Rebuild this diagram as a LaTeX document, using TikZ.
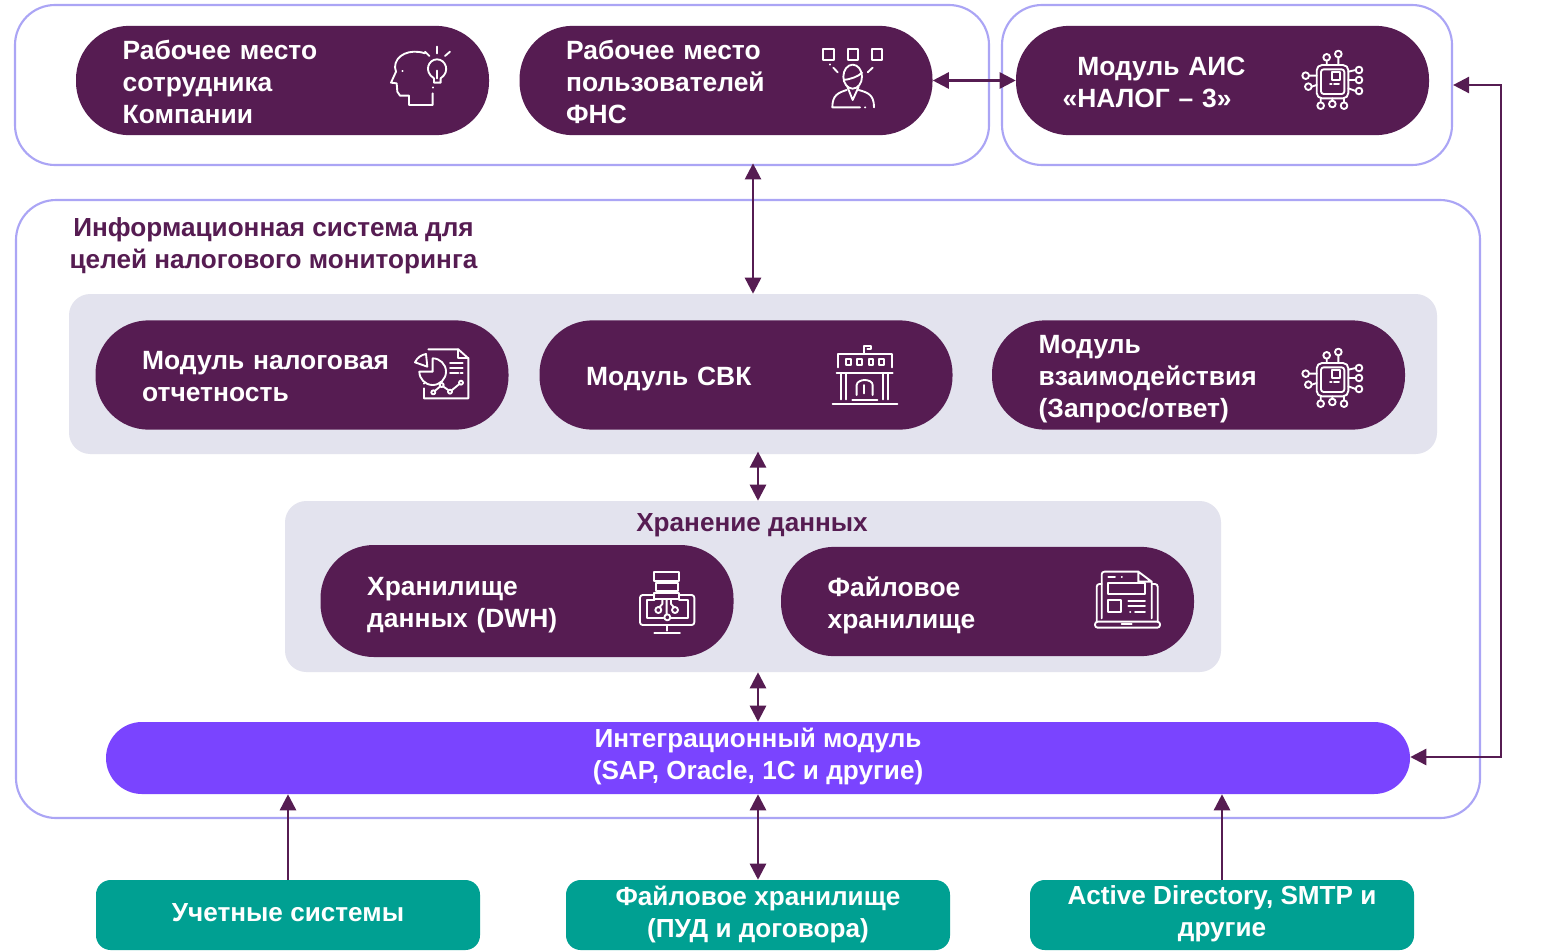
\documentclass[tikz,border=0pt]{standalone}
\usepackage{fontspec}
\setmainfont{Liberation Sans}
\usetikzlibrary{arrows.meta}
\definecolor{plum}{HTML}{561C52}
\definecolor{edgeviolet}{HTML}{ABA5F5}
\definecolor{panelgray}{HTML}{E3E3EE}
\definecolor{violetbar}{HTML}{7A44FF}
\definecolor{teal}{HTML}{00A092}
\newcommand{\headstrut}{\rule{0pt}{20.7pt}}
\newcommand{\tailstrut}[1]{\rule[-#1]{0pt}{1pt}}
\tikzset{
  x=0.75pt,y=-0.75pt,
  frame/.style={draw=edgeviolet,line width=1.6pt,fill=white,rounded corners=30pt,inner sep=0pt},
  panel/.style={fill=panelgray,rounded corners=16pt,inner sep=0pt},
  pill/.style={fill=plum,text=white,rounded corners=40pt,minimum width=309.75pt,minimum height=82pt,
    inner xsep=35pt,inner ysep=0pt,text width=239.75pt,align=left,
    font=\fontsize{19.8}{24}\selectfont\bfseries,
    execute at begin node=\headstrut,execute at end node=\tailstrut{4.5pt}},
  bar/.style={fill=violetbar,text=white,rounded corners=27pt,align=center,inner sep=0pt,
    font=\fontsize{19.6}{24}\selectfont\bfseries,
    execute at begin node=\headstrut,execute at end node=\tailstrut{7.1pt}},
  src/.style={fill=teal,text=white,rounded corners=11pt,align=center,inner sep=0pt,minimum width=288pt,minimum height=52.5pt,
    font=\fontsize{19.6}{24}\selectfont\bfseries,
    execute at begin node=\headstrut,execute at end node=\tailstrut{5.6pt}},
  heading/.style={text=plum,align=center,inner sep=0pt,
    font=\fontsize{19.6}{24}\selectfont\bfseries,
    execute at begin node=\headstrut,execute at end node=\tailstrut{4.5pt}},
  link/.style={draw=plum,line width=1.9pt,-{Triangle[length=12pt,width=12pt]}},
  biglink/.style={link,{Triangle[length=12pt,width=12pt]}-{Triangle[length=12pt,width=12pt]}},
  glyph/.style={x=0.25pt,y=-0.25pt,draw=white,line width=1.4pt,line cap=round,line join=round},
}
\newcommand{\chipglyph}{%
  \draw[rounded corners=4pt] (95,90) rectangle (190,190);
  \draw[rounded corners=2pt] (108,103) rectangle (178,177);
  \draw (140,112) rectangle (165,135) (135,148)--(140,148) (147,148)--(162,148);
  \draw (125,67) circle (10) (160,57) circle (10) (62,122) circle (10) (70,155) circle (10)
    (222,105) circle (10) (222,135) circle (10) (222,168) circle (10)
    (107,212) circle (10) (142,207) circle (10) (177,212) circle (10);
  \draw (125,77)--(125,90) (160,67)--(160,90) (72,122)--(95,122) (80,155)--(95,150)
    (190,110)--(212,105) (190,135)--(212,135) (190,160)--(212,168)
    (107,190)--(107,202) (142,190)--(142,197) (177,190)--(177,202);
}
\begin{document}
\begin{tikzpicture}
\useasboundingbox (0,0) rectangle (1544,950);
\clip (0,0) rectangle (1544,950);
% frames
\node[frame,minimum width=730.5pt,minimum height=120pt] (frameA) at (502,85) {};
\node[frame,minimum width=337.5pt,minimum height=120pt] (frameB) at (1227,85) {};
\node[frame,minimum width=1098pt,minimum height=463.5pt] (frameC) at (748,509) {};
% panels
\node[panel,minimum width=1026pt,minimum height=120pt] (panelA) at (753,374) {};
\node[panel,minimum width=702pt,minimum height=128.25pt] (panelB) at (753,586.5) {};
% pills
\node[pill] (emp) at (282.5,80.5) {Рабочее место\\сотрудника\\Компании};
\node[pill] (fns) at (726,80.5) {Рабочее место\\пользователей\\ФНС};
\node[pill] (ais) at (1222.5,80.5) {\hspace*{11pt}Модуль АИС\\«НАЛОГ – 3»};
\node[heading] (title) at (273.5,246) {Информационная система для\\целей налогового мониторинга};
\node[pill] (rep) at (302,375) {Модуль налоговая\\отчетность};
\node[pill] (svk) at (746,375) {Модуль СВК};
\node[pill] (req) at (1198.5,375) {Модуль\\взаимодействия\\(Запрос/ответ)};
\node[heading] (store) at (752,521) {Хранение данных};
\node[pill,minimum height=84pt] (dwh) at (527,601) {Хранилище\\данных (DWH)};
\node[pill] (files) at (987.5,601.5) {Файловое\\хранилище};
\node[bar,minimum width=978pt,minimum height=54pt] (integ) at (758,758) {Интеграционный модуль\\(SAP, Oracle, 1С и другие)};
\node[src,execute at end node=\tailstrut{11.6pt}] (acc) at (288,915) {Учетные системы};
\node[src] (fs) at (758,915) {Файловое хранилище\\(ПУД и договора)};
\node[src] (ad) at (1222,915) {Active Directory, SMTP и\\другие};
% connector anchors
\coordinate (xtop) at (753,0);
\coordinate (xmid) at (758,0);
\coordinate (railA) at (1501,85);
\coordinate (railB) at (1501,757);
% connectors
\draw[biglink] (fns.east) -- (ais.west);
\draw[biglink,shorten <=-2pt] (frameA.south -| xtop) -- (panelA.north -| xtop);
\draw[biglink,shorten <=-2pt] (panelA.south -| xmid) -- (panelB.north -| xmid);
\draw[biglink] (panelB.south -| xmid) -- (integ.north -| xmid);
\draw[link] (acc.north) -- (integ.south -| acc.north);
\draw[biglink] (fs.north) -- (integ.south -| fs.north);
\draw[link] (ad.north) -- (integ.south -| ad.north);
\draw[biglink] (integ.east |- railB) -- (railB) -- (railA) -- (frameB.east |- railA);
% head with bulb
\begin{scope}[glyph,shift={(1110,90)}]
  \draw (165,70) .. controls (120,55) and (75,75) .. (75,112) -- (78,125) -- (63,158) -- (80,160) -- (82,185) -- (90,197) -- (117,197) -- (117,225) -- (188,225) -- (188,190);
  \draw (188,172)--(188,173) (97,122)--(98,122);
  \draw (192,145) .. controls (160,125) and (175,88) .. (201,88) .. controls (227,88) and (242,125) .. (212,145) -- (212,158) -- (192,158) -- cycle;
  \draw (201,122)--(201,145) (201,50)--(201,70) (165,65)--(178,78) (240,65)--(225,78);
\end{scope}
% person with squares
\begin{scope}[glyph,shift={(2400,90)}]
  \draw (70,57) rectangle (102,90) (143,57) rectangle (175,90) (215,57) rectangle (247,90);
  \draw (90,103)--(90,104) (100,113)--(113,127) (218,113)--(203,127);
  \draw (158,140) ellipse (28 and 36);
  \draw (131,150) .. controls (150,148) and (175,140) .. (186,128);
  \draw (142,170)--(158,210)--(176,170);
  \draw (140,180) .. controls (115,188) and (97,195) .. (97,232) -- (180,232) (195,232)--(196,232) (222,232) .. controls (222,195) and (205,188) .. (176,180);
\end{scope}
% chip
\begin{scope}[glyph,shift={(3855,105)}]\chipglyph\end{scope}
\begin{scope}[glyph,shift={(3855,999)}]\chipglyph\end{scope}
% report
\begin{scope}[glyph,shift={(1200,990)}]
  \draw (72,175) -- (72,205) -- (205,205) -- (205,85) -- (175,58) -- (85,58);
  \draw (175,58) -- (175,85) -- (205,85) (72,160)--(72,161);
  \draw (98,85) arc (-90:180:40) -- (98,125) -- cycle;
  \draw (45,97) .. controls (52,82) and (65,74) .. (78,72) -- (82,110) -- cycle;
  \draw (150,100)--(188,100) (150,115)--(188,115) (150,130)--(175,130) (182,130)--(188,130);
  \draw (100,187) circle (6) (125,165) circle (6) (150,185) circle (6) (183,158) circle (6);
  \draw (104,183)--(121,169) (129,169)--(146,181) (155,181)--(178,162);
\end{scope}
% building
\begin{scope}[glyph,shift={(2460,990)}]
  \draw (133,70)--(133,47)--(152,47)--(152,58)--(142,58);
  \draw (55,112)--(55,72)--(215,72)--(215,112);
  \draw (78,88) rectangle (92,105) (112,88) rectangle (126,105) (146,88) rectangle (160,105) (178,88) rectangle (192,105);
  \draw (50,128)--(218,128);
  \draw (62,130)--(62,208) (78,130)--(78,208) (190,130)--(190,208) (205,130)--(205,208);
  \draw (110,195)--(110,165) .. controls (110,155) and (125,150) .. (134,150) .. controls (145,150) and (158,155) .. (158,165) -- (158,195);
  \draw (133,165)--(133,190);
  \draw (97,210)--(172,210) (38,222)--(232,222);
\end{scope}
% data warehouse
\begin{scope}[glyph,shift={(1875,1680)}]
  \draw (88,35) rectangle (162,62) (92,68) rectangle (158,92) (88,98) rectangle (162,118);
  \draw[rounded corners=2pt] (88,105) -- (45,105) -- (45,195) -- (208,195) -- (208,105) -- (162,105);
  \draw (88,120) -- (65,120) -- (65,175) -- (115,175) (138,175) -- (188,175) -- (188,120) -- (162,120);
  \draw (125,118)--(125,164) (127,172) circle (9) (100,150) circle (9) (150,150) circle (9);
  \draw (112,118)--(112,132)--(103,142) (138,118)--(138,132)--(147,142);
  \draw (125,195)--(125,212) (88,218)--(165,218);
\end{scope}
% laptop with document
\begin{scope}[glyph,shift={(3255,1680)}]
  \draw[rounded corners=2pt] (50,175) -- (50,35) -- (160,35);
  \draw (160,35) -- (200,65) -- (200,175) (160,35) -- (160,65) -- (200,65);
  \draw[rounded corners=2pt] (50,72) -- (35,72) -- (35,185) (200,72) -- (218,72) -- (218,185);
  \draw[rounded corners=2pt] (30,185) rectangle (225,203);
  \draw (110,193)--(140,193) (70,50)--(90,50) (110,50)--(111,50);
  \draw (180,70) -- (70,70) -- (70,103) -- (180,103) -- (180,70);
  \draw (70,120) rectangle (108,155);
  \draw (130,122)--(180,122) (130,138)--(180,138) (135,157)--(136,157) (150,157)--(180,157);
\end{scope}
\end{tikzpicture}
\end{document}
